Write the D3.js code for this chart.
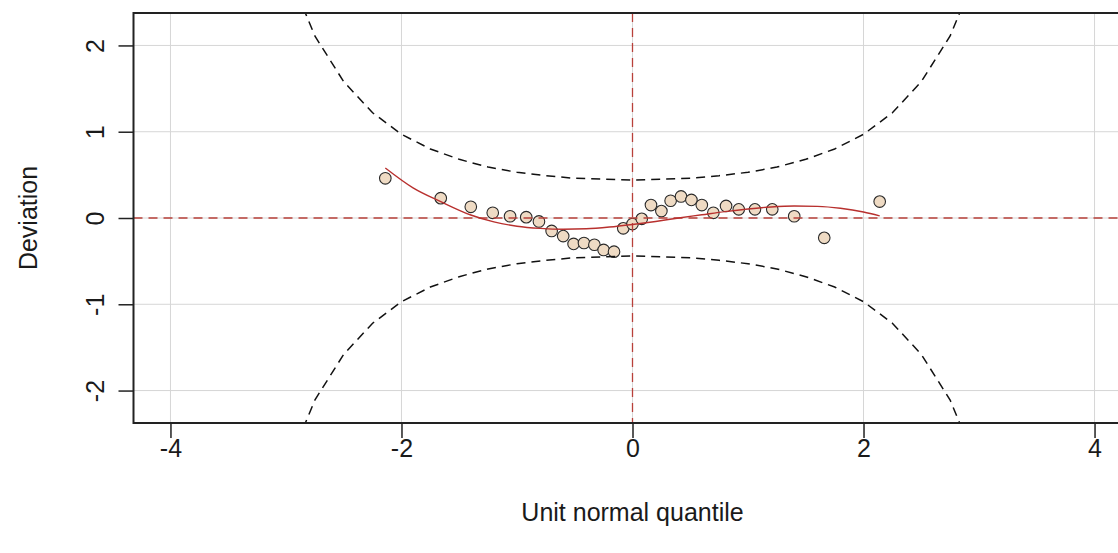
<!DOCTYPE html>
<html>
<head>
<meta charset="utf-8">
<script src="https://cdn.jsdelivr.net/npm/d3@7"></script>
<style>
  html, body { margin: 0; padding: 0; background: #ffffff; }
  svg { display: block; }
  text { font-family: "Liberation Sans", Arial, sans-serif; fill: #1a1a1a; }
</style>
</head>
<body>
<svg id="chart" width="1118" height="553"></svg>
<script>
// Worm plot: detrended normal Q-Q residuals with 95% bands and cubic trend

// Theoretical unit normal quantiles of the 31 residuals
const quantiles = [-2.14, -1.66, -1.40, -1.21, -1.06, -0.92, -0.81, -0.70, -0.60, -0.51,
                   -0.42, -0.33, -0.25, -0.16, -0.08, 0.00, 0.08, 0.16, 0.25, 0.33,
                   0.42, 0.51, 0.60, 0.70, 0.81, 0.92, 1.06, 1.21, 1.40, 1.66, 2.14];
// Deviation of each sample quantile from its theoretical quantile
const deviations = [0.46, 0.23, 0.13, 0.06, 0.02, 0.01, -0.04, -0.15, -0.21, -0.30,
                    -0.29, -0.31, -0.37, -0.39, -0.12, -0.07, -0.01, 0.15, 0.08, 0.20,
                    0.25, 0.21, 0.15, 0.06, 0.14, 0.10, 0.10, 0.10, 0.02, -0.23, 0.19];

// Fitted cubic trend through the worm
const trendX = [-2.14, -1.9, -1.66, -1.4, -1.2, -1.0, -0.8, -0.6, -0.4, -0.2, 0.0,
                0.2, 0.4, 0.6, 0.8, 1.0, 1.2, 1.4, 1.6, 1.8, 2.0, 2.14];
const trendY = [0.58, 0.35, 0.19, 0.035, -0.045, -0.095, -0.12, -0.13, -0.125, -0.105, -0.075,
                -0.04, 0.0, 0.037, 0.074, 0.105, 0.128, 0.139, 0.135, 0.113, 0.07, 0.025];

// Approximate 95% pointwise confidence band
const bandZ = [-3, -2.75, -2.5, -2.25, -2, -1.75, -1.5, -1.25, -1, -0.75, -0.5, -0.25, 0,
               0.25, 0.5, 0.75, 1, 1.25, 1.5, 1.75, 2, 2.25, 2.5, 2.75, 3];
const bandUpper = [2.92, 2.11, 1.58, 1.22, 0.97, 0.80, 0.68, 0.59, 0.53, 0.49, 0.46, 0.45, 0.44,
                   0.45, 0.46, 0.49, 0.53, 0.59, 0.68, 0.80, 0.97, 1.22, 1.58, 2.11, 2.92];
const bandLower = [-2.92, -2.11, -1.58, -1.22, -0.97, -0.80, -0.68, -0.59, -0.53, -0.49, -0.46, -0.45, -0.44,
                   -0.45, -0.46, -0.49, -0.53, -0.59, -0.68, -0.80, -0.97, -1.22, -1.58, -2.11, -2.92];

// Axis ticks and labels
const xTicks = [-4, -2, 0, 2, 4];
const yTicks = [-2, -1, 0, 1, 2];
const xTitle = "Unit normal quantile";
const yTitle = "Deviation";

const svg = d3.select("#chart");
const plot = { left: 133.5, right: 1131.5, top: 13, bottom: 423 };
const fontSize = "25px";

const x = d3.scaleLinear().domain([-4.32, 4.32]).range([plot.left, plot.right]);
const y = d3.scaleLinear().domain([-2.376, 2.376]).range([plot.bottom, plot.top]);

svg.append("defs").append("clipPath").attr("id", "plotClip")
  .append("rect")
  .attr("x", plot.left).attr("y", plot.top)
  .attr("width", plot.right - plot.left).attr("height", plot.bottom - plot.top);

const inner = svg.append("g").attr("clip-path", "url(#plotClip)");

// Light grid at the tick positions
inner.append("g").selectAll("line").data(xTicks).join("line")
  .attr("x1", d => x(d)).attr("x2", d => x(d))
  .attr("y1", plot.top).attr("y2", plot.bottom)
  .attr("stroke", "#d6d6d6").attr("stroke-width", 1);
inner.append("g").selectAll("line").data(yTicks).join("line")
  .attr("x1", plot.left).attr("x2", plot.right)
  .attr("y1", d => y(d)).attr("y2", d => y(d))
  .attr("stroke", "#d6d6d6").attr("stroke-width", 1);

// Residual points
inner.append("g").selectAll("circle").data(quantiles).join("circle")
  .attr("cx", d => x(d))
  .attr("cy", (d, i) => y(deviations[i]))
  .attr("r", 5.8)
  .attr("fill", "#efdbc4")
  .attr("stroke", "#2b2b2b")
  .attr("stroke-width", 1.1);

// Reference lines at zero
const refColor = "#b8403a";
inner.append("line")
  .attr("x1", plot.left).attr("x2", plot.right)
  .attr("y1", y(0)).attr("y2", y(0))
  .attr("stroke", refColor).attr("stroke-width", 1.3)
  .attr("stroke-dasharray", "9,6");
inner.append("line")
  .attr("x1", x(0)).attr("x2", x(0))
  .attr("y1", plot.top).attr("y2", plot.bottom)
  .attr("stroke", refColor).attr("stroke-width", 1.3)
  .attr("stroke-dasharray", "9,6");

// Confidence band
const bandLine = d3.line().x(d => x(d[0])).y(d => y(d[1]));
[bandUpper, bandLower].forEach(vals => {
  inner.append("path")
    .attr("d", bandLine(bandZ.map((z, i) => [z, vals[i]])))
    .attr("fill", "none")
    .attr("stroke", "#111")
    .attr("stroke-width", 1.5)
    .attr("stroke-dasharray", "9,6");
});

// Cubic trend
inner.append("path")
  .attr("d", d3.line().x(d => x(d[0])).y(d => y(d[1])).curve(d3.curveMonotoneX)(trendX.map((v, i) => [v, trendY[i]])))
  .attr("fill", "none")
  .attr("stroke", "#b8302e")
  .attr("stroke-width", 1.4);

// Plot frame
svg.append("rect")
  .attr("x", plot.left).attr("y", plot.top)
  .attr("width", plot.right - plot.left).attr("height", plot.bottom - plot.top)
  .attr("fill", "none").attr("stroke", "#222").attr("stroke-width", 2);

// Bottom axis
const xAxis = svg.append("g").attr("transform", `translate(0,${plot.bottom})`)
  .call(d3.axisBottom(x).tickValues(xTicks).tickSize(15).tickPadding(0).tickFormat(d => String(d)));
xAxis.select(".domain").remove();
xAxis.selectAll(".tick line").attr("stroke", "#222").attr("stroke-width", 1.5);
xAxis.selectAll(".tick text")
  .attr("y", 34).attr("dy", null)
  .style("font-size", fontSize)
  .style("font-family", "'Liberation Sans', Arial, sans-serif")
  .attr("fill", "#1a1a1a");

// Left axis, labels rotated parallel to the axis
const yAxis = svg.append("g").attr("transform", `translate(${plot.left},0)`)
  .call(d3.axisLeft(y).tickValues(yTicks).tickSize(15).tickFormat(d => String(d)));
yAxis.select(".domain").remove();
yAxis.selectAll(".tick line").attr("stroke", "#222").attr("stroke-width", 1.5);
yAxis.selectAll(".tick text")
  .attr("x", null).attr("dy", null)
  .attr("text-anchor", "middle")
  .attr("transform", "translate(-30,0) rotate(-90)")
  .style("font-size", fontSize)
  .style("font-family", "'Liberation Sans', Arial, sans-serif")
  .attr("fill", "#1a1a1a");

// Axis titles
svg.append("text")
  .attr("x", (plot.left + plot.right) / 2).attr("y", 521)
  .attr("text-anchor", "middle")
  .style("font-size", fontSize)
  .text(xTitle);
svg.append("text")
  .attr("transform", `translate(37,${y(0)}) rotate(-90)`)
  .attr("text-anchor", "middle")
  .style("font-size", fontSize)
  .text(yTitle);
</script>
</body>
</html>
